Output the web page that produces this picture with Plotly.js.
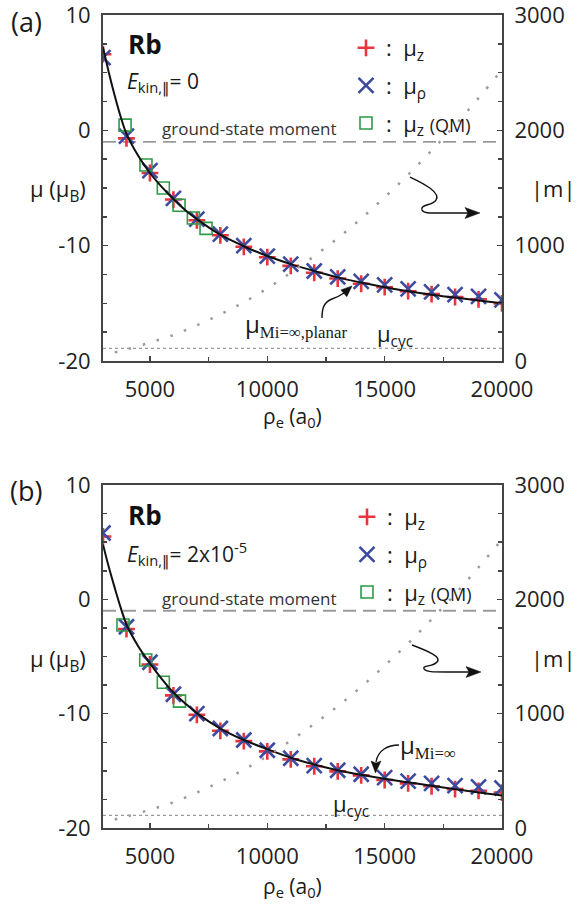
<!DOCTYPE html>
<html><head><meta charset="utf-8">
<script src="https://cdn.plot.ly/plotly-3.0.1.min.js"></script>
<style>html,body{margin:0;padding:0;background:#fff}#chart{width:577px;height:909px}</style>
</head><body><div id="chart"></div>
<script>
// ---------- data ----------
const rho = [3000,4000,5000,6000,7000,8000,9000,10000,11000,12000,13000,14000,15000,16000,17000,18000,19000,20000];

// panel (a): E_kin,|| = 0
const muZ_a   = [6.6,-0.7,-3.7,-6.0,-7.8,-9.1,-10.1,-11.0,-11.75,-12.35,-12.85,-13.3,-13.6,-13.95,-14.2,-14.45,-14.65,-15.0];
const muRho_a = [6.3,-0.5,-3.5,-5.9,-7.7,-9.0,-10.0,-10.9,-11.6,-12.2,-12.7,-13.1,-13.4,-13.75,-14.0,-14.25,-14.4,-14.7];
const rhoQM_a = [3940,4830,5570,6240,6850,7390];
const muQM_a  = [0.45,-3.0,-5.0,-6.5,-7.6,-8.5];

// panel (b): E_kin,|| = 2x10^-5
const muZ_b   = [5.5,-2.6,-5.7,-8.4,-10.1,-11.5,-12.4,-13.3,-14.0,-14.6,-15.05,-15.4,-15.8,-16.1,-16.35,-16.6,-16.75,-16.9];
const muRho_b = [5.8,-2.4,-5.5,-8.3,-10.0,-11.3,-12.3,-13.2,-13.9,-14.55,-14.95,-15.3,-15.6,-15.9,-16.1,-16.3,-16.4,-16.5];
const rhoQM_b = [3850,4820,5570,6260];
const muQM_b  = [-2.25,-5.3,-7.25,-8.9];

// analytic-limit curves (black lines)
const rhoLine = [3000,3250,3500,3750,4000,4500,5000,5500,6000,6500,7000,8000,9000,10000,11000,12000,13000,14000,15000,16000,17000,18000,19000,20000];
const muPlanar_a = [7.2,5.0,3.0,1.2,-0.3,-2.2,-3.7,-4.9,-5.95,-6.9,-7.7,-9.05,-10.05,-10.9,-11.6,-12.2,-12.75,-13.2,-13.6,-13.95,-14.25,-14.5,-14.75,-15.0];
const muInf_b    = [4.8,2.8,1.0,-0.7,-2.2,-4.1,-5.6,-6.95,-8.15,-9.1,-9.95,-11.3,-12.3,-13.1,-13.85,-14.45,-14.95,-15.35,-15.7,-16.0,-16.3,-16.6,-16.9,-17.15];

// |m| (right axis)
const rhoM = [3500,4000,5000,6000,7000,8000,9000,10000,11000,12000,13000,14000,15000,16000,17000,18000,19000,20000];
const mAbs = [75,100,160,225,310,405,510,630,765,910,1065,1235,1420,1615,1825,2045,2280,2525];

// reference levels
const groundState = -1.0;
const muCyc = -18.9;

// ticks
const xTickVals = [5000,10000,15000,20000];
const xTickText = ['5000','10000','15000','20000'];
const yTickVals = [-20,-10,0,10];
const yTickText = ['-20','-10','0','10'];
const mTickVals = [0,1000,2000,3000];
const mTickText = ['0','1000','2000','3000'];

// ---------- styling ----------
const RED='#e8343c', BLUE='#3c4b9f', GREEN='#2e9a48', AX='#444', GRAY='#9a9a9a';
const FONT='Open Sans';
const W=577,H=909,ML=103,MR=75,MT=15,MB=81;
const PW=W-ML-MR, PH=H-MT-MB;
const px=x=>(x-ML)/PW, py=y=>1-(y-MT)/PH;
const P=(x,y)=>px(x).toFixed(4)+','+py(y).toFixed(4);

function markerTraces(xa,ya,mz,mr,xq,yq,leg){
  return [
    {x:rho,y:mz,xaxis:xa,yaxis:ya,type:'scatter',mode:'markers',name:':  μ<sub>z</sub>',
     legend:leg,legendgroup:leg+'z',
     marker:{symbol:'cross-thin',size:12,color:RED,line:{color:RED,width:2.6}}},
    {x:rho,y:mr,xaxis:xa,yaxis:ya,type:'scatter',mode:'markers',name:':  μ<sub>ρ</sub>',
     legend:leg,legendgroup:leg+'r',
     marker:{symbol:'x-thin',size:15,color:BLUE,line:{color:BLUE,width:2.6}}},
    {x:xq,y:yq,xaxis:xa,yaxis:ya,type:'scatter',mode:'markers',name:':  μ<sub>z</sub> <span style="font-size:18px">(QM)</span>',
     legend:leg,legendgroup:leg+'q',
     marker:{symbol:'square-open',size:12,color:GREEN,line:{color:GREEN,width:1.6}}}
  ];
}

const data = [
  ...markerTraces('x','y',muZ_a,muRho_a,rhoQM_a,muQM_a,'legend'),
  {x:rhoLine,y:muPlanar_a,xaxis:'x',yaxis:'y',type:'scatter',mode:'lines',showlegend:false,
   line:{color:'#111',width:2,shape:'spline'}},
  {x:rhoM,y:mAbs,xaxis:'x',yaxis:'y2',type:'scatter',mode:'lines',showlegend:false,
   line:{color:GRAY,width:2.5,dash:'2.5px,12px',shape:'spline'}},
  ...markerTraces('x2','y3',muZ_b,muRho_b,rhoQM_b,muQM_b,'legend2'),
  {x:rhoLine,y:muInf_b,xaxis:'x2',yaxis:'y3',type:'scatter',mode:'lines',showlegend:false,
   line:{color:'#111',width:2,shape:'spline'}},
  {x:rhoM,y:mAbs,xaxis:'x2',yaxis:'y4',type:'scatter',mode:'lines',showlegend:false,
   line:{color:GRAY,width:2.5,dash:'2.5px,12px',shape:'spline'}}
];

const tickfont={family:FONT,size:22,color:'#222'};
function xAxis(anchor){
  return {anchor:anchor,domain:[0,1],range:[3000,20000],tickvals:xTickVals,ticktext:xTickText,
    ticks:'inside',ticklen:5,tickwidth:1.5,tickcolor:AX,showline:true,linecolor:AX,linewidth:2,mirror:true,
    showgrid:false,zeroline:false,tickfont:tickfont,ticklabelstandoff:8,ticklabeloverflow:'allow',
    minor:{tickvals:[7500,12500,17500],ticks:'inside',ticklen:4,tickwidth:1.5,tickcolor:AX,showgrid:false}};
}
function yAxis(anchor,dom){
  return {anchor:anchor,domain:dom,range:[-20,10],tickvals:yTickVals,ticktext:yTickText,
    ticks:'inside',ticklen:5,tickwidth:1.5,tickcolor:AX,showline:true,linecolor:AX,linewidth:2,
    showgrid:false,zeroline:false,tickfont:tickfont,ticklabelstandoff:6,ticklabeloverflow:'allow',
    minor:{dtick:2.5,tick0:0,ticks:'inside',ticklen:4,tickwidth:1.5,tickcolor:AX,showgrid:false}};
}
function mAxis(over,anchor){
  return {overlaying:over,anchor:anchor,side:'right',range:[0,3000],tickvals:mTickVals,ticktext:mTickText,
    ticks:'inside',ticklen:5,tickwidth:1.5,tickcolor:AX,showline:true,linecolor:AX,linewidth:2,
    showgrid:false,zeroline:false,tickfont:tickfont,ticklabelstandoff:6,ticklabeloverflow:'allow',
    minor:{dtick:250,tick0:0,ticks:'inside',ticklen:4,tickwidth:1.5,tickcolor:AX,showgrid:false}};
}

function ann(text,x,y,opts){
  return Object.assign({text:text,xref:'paper',yref:'paper',x:px(x),y:py(y),showarrow:false,borderpad:0,
    xanchor:'center',yanchor:'middle',font:{family:FONT,size:20,color:'#1a1a1a'}},opts||{});
}
const PAR='<span style="font-family:DejaVu Sans">‖</span>';
function panelAnn(dy,isB){
  return [
    ann(isB?'(b)':'(a)',26,21+dy,{font:{family:FONT,size:27,color:'#1a1a1a'}}),
    ann('<b>Rb</b>',127,44+dy+(isB?1:0),{xanchor:'left',font:{family:FONT,size:26,color:'#111'}}),
    ann(isB?'<i>E</i><sub>kin,'+PAR+'</sub>= 2x10<sup>-5</sup>':'<i>E</i><sub>kin,'+PAR+'</sub>= 0',126,82+dy+(isB?1:0),{xanchor:'left',font:{family:FONT,size:21,color:'#1a1a1a'}}),
    ann('ground-state moment',249,128+dy,{font:{family:FONT,size:17,color:'#333'}}),
    ann('μ (μ<sub>B</sub>)',58,190+dy,{font:{family:FONT,size:22,color:'#1a1a1a'}}),
    ann('|m|',553,188+dy,{font:{family:FONT,size:22,color:'#1a1a1a'}}),
    ann('ρ<sub>e</sub> (a<sub>0</sub>)',292,417+dy,{font:{family:FONT,size:21,color:'#1a1a1a'}})
  ];
}
const annotations=[
  ...panelAnn(0,false),
  ...panelAnn(470,true),
  ann('μ<sub><span style="font-family:Liberation Serif">Mi=∞,planar</span></sub>',244,325,{xanchor:'left',font:{family:FONT,size:24,color:'#1a1a1a'}}),
  ann('μ<sub>cyc</sub>',376,335,{xanchor:'left',font:{family:FONT,size:22,color:'#1a1a1a'}}),
  ann('μ<sub><span style="font-family:Liberation Serif">Mi=∞</span></sub>',399,745,{xanchor:'left',font:{family:FONT,size:24,color:'#1a1a1a'}}),
  ann('μ<sub>cyc</sub>',332,805,{xanchor:'left',font:{family:FONT,size:22,color:'#1a1a1a'}})
];

function hline(xr,yr,val,dash,width){
  return {type:'line',xref:xr+' domain',yref:yr,x0:0,x1:1,y0:val,y1:val,layer:'below',
    line:{color:GRAY,width:width,dash:dash}};
}
function pathShape(d,fill){
  return {type:'path',xref:'paper',yref:'paper',path:d,layer:'above',
    fillcolor:fill?'#111':'rgba(0,0,0,0)',line:{color:'#111',width:fill?0.5:1.4}};
}
const shapes=[
  hline('x','y',groundState,'13px,7px',1.8),
  hline('x','y',muCyc,'3px,3px',1.3),
  hline('x2','y3',groundState,'13px,7px',1.8),
  hline('x2','y3',muCyc,'3px,3px',1.3),
  // curly arrows (decoration)
  pathShape('M'+P(410,177)+' C'+P(425,184)+' '+P(441,193)+' '+P(436,200)+' C'+P(432,206)+' '+P(420,204)+' '+P(422,210)+' C'+P(424,214)+' '+P(432,213)+' '+P(445,213)+' L'+P(468,213),false),
  pathShape('M'+P(480,213)+' L'+P(465,207.5)+' L'+P(468,213)+' L'+P(465,218.5)+' Z',true),
  pathShape('M'+P(412,645)+' C'+P(428,651)+' '+P(442,657)+' '+P(437,662)+' C'+P(433,667)+' '+P(422,665)+' '+P(424,669)+' C'+P(426,672)+' '+P(433,672)+' '+P(446,672)+' L'+P(469,672),false),
  pathShape('M'+P(481,672)+' L'+P(466,666.5)+' L'+P(469,672)+' L'+P(466,677.5)+' Z',true),
  pathShape('M'+P(322,318)+' C'+P(322,308)+' '+P(324,302)+' '+P(332,299)+' C'+P(338,297)+' '+P(341,295)+' '+P(344,293),false),
  pathShape('M'+P(352,286)+' L'+P(346.8,296.7)+' L'+P(343.8,293.3)+' L'+P(340.8,289.9)+' Z',true),
  pathShape('M'+P(399,745)+' C'+P(388,745)+' '+P(378,750)+' '+P(376,762),false),
  pathShape('M'+P(375.5,773)+' L'+P(371,761)+' L'+P(376,763)+' L'+P(381,761)+' Z',true)
];

const legendBase={xanchor:'left',yanchor:'top',bgcolor:'rgba(0,0,0,0)',borderwidth:0,
  font:{family:FONT,size:22,color:'#1a1a1a'},tracegroupgap:6,itemwidth:30,itemclick:false};

const layout={
  width:W,height:H,margin:{l:ML,r:MR,t:MT,b:MB},
  paper_bgcolor:'#fff',plot_bgcolor:'#fff',
  xaxis:xAxis('y'),
  yaxis:yAxis('x',[py(361),1]),
  yaxis2:mAxis('y','x'),
  xaxis2:xAxis('y3'),
  yaxis3:yAxis('x2',[0,py(485)]),
  yaxis4:mAxis('y3','x2'),
  legend:Object.assign({x:px(346),y:py(27)},legendBase),
  legend2:Object.assign({x:px(347),y:py(496)},legendBase),
  annotations:annotations,
  shapes:shapes,
  showlegend:true
};

Plotly.newPlot('chart',data,layout,{staticPlot:true,displayModeBar:false});
</script>
</body></html>
